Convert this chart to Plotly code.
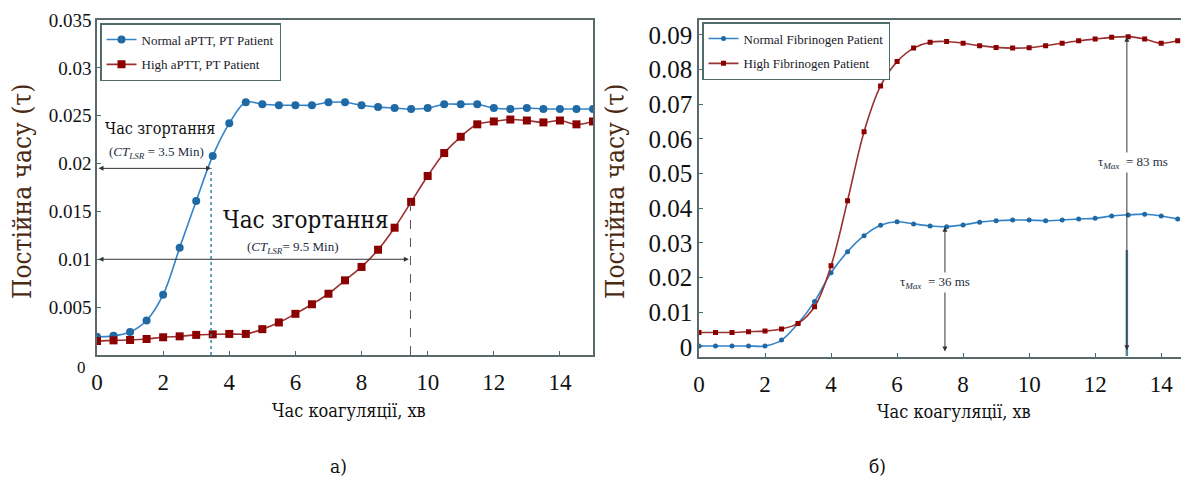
import plotly.graph_objects as go

# ---------------- data ----------------
t_left = [0, 0.5, 1, 1.5, 2, 2.5, 3, 3.5, 4, 4.5, 5, 5.5, 6, 6.5, 7, 7.5, 8, 8.5, 9, 9.5,
          10, 10.5, 11, 11.5, 12, 12.5, 13, 13.5, 14, 14.5, 15]
normal_aptt = [0.0019, 0.0020, 0.0024, 0.0036, 0.0063, 0.0112, 0.0161, 0.0208, 0.0242, 0.0264,
               0.0262, 0.0261, 0.0261, 0.0261, 0.0264, 0.0264, 0.0261, 0.0259, 0.0258, 0.0257,
               0.0258, 0.0262, 0.0262, 0.0262, 0.0258, 0.0257, 0.0258, 0.0257, 0.0257, 0.0257, 0.0257]
high_aptt = [0.00146, 0.00153, 0.00157, 0.00167, 0.00185, 0.00195, 0.0021, 0.00216, 0.0022, 0.0022,
             0.0027, 0.0034, 0.0043, 0.0053, 0.0064, 0.0078, 0.0092, 0.0110, 0.0133, 0.0160,
             0.0187, 0.0211, 0.0228, 0.0241, 0.0244, 0.0246, 0.0245, 0.0243, 0.0245, 0.0241, 0.0244]

t_right = [0, 0.5, 1, 1.5, 2, 2.5, 3, 3.5, 4, 4.5, 5, 5.5, 6, 6.5, 7, 7.5, 8, 8.5, 9, 9.5,
           10, 10.5, 11, 11.5, 12, 12.5, 13, 13.5, 14, 14.5]
normal_fib = [0.0003, 0.0003, 0.0003, 0.0003, 0.0003, 0.0020, 0.0068, 0.0131, 0.0214, 0.0275,
              0.0321, 0.0351, 0.0361, 0.0355, 0.0349, 0.0347, 0.0352, 0.0360, 0.0364, 0.0366,
              0.0366, 0.0364, 0.0366, 0.0369, 0.0371, 0.0378, 0.0381, 0.0383, 0.0378, 0.0369]
high_fib = [0.0042, 0.0042, 0.0042, 0.0044, 0.0046, 0.0052, 0.0068, 0.0116, 0.0234, 0.0422,
            0.0621, 0.0753, 0.0823, 0.0862, 0.0879, 0.0881, 0.0876, 0.0869, 0.0864, 0.0862,
            0.0863, 0.0869, 0.0876, 0.0883, 0.0888, 0.0893, 0.0895, 0.0888, 0.0876, 0.0883]

left_yticks = [0.005, 0.01, 0.015, 0.02, 0.025, 0.03, 0.035]
left_yticktext = ["0.005", "0.01", "0.015", "0.02", "0.025", "0.03", "0.035"]
right_yticks = [0, 0.01, 0.02, 0.03, 0.04, 0.05, 0.06, 0.07, 0.08, 0.09]
right_yticktext = ["0", "0.01", "0.02", "0.03", "0.04", "0.05", "0.06", "0.07", "0.08", "0.09"]
xticks = [0, 2, 4, 6, 8, 10, 12, 14]

ct_normal = 3.45      # clotting time arrow end, normal patient
ct_normal_level = 0.0195
ct_high = 9.48
ct_high_level = 0.0100
tau_normal_x = 7.45
tau_normal_val = 0.0347
tau_high_x = 12.96
tau_high_val = 0.0895

SERIF = "Liberation Serif, Times New Roman, Tinos, serif"
SERIF_CYR = "DejaVu Serif Condensed, DejaVu Serif, serif"
BLUE_LINE = "#3383c9"
BLUE_MK = "#1f6aa5"
RED_LINE = "#9b3030"
RED_MK = "#8b0000"
TITLE_COL = "#4a2a12"

fig = go.Figure()

# ---- left panel ----
fig.add_trace(go.Scatter(x=t_left, y=normal_aptt, name="Normal aPTT, PT Patient",
                         mode="lines+markers", line=dict(color=BLUE_LINE, width=1.6, shape="spline"),
                         marker=dict(symbol="circle", size=8, color=BLUE_MK),
                         xaxis="x", yaxis="y", legend="legend", legendgroup="a1"))
fig.add_trace(go.Scatter(x=t_left, y=high_aptt, name="High aPTT, PT Patient",
                         mode="lines+markers", line=dict(color=RED_LINE, width=1.6, shape="spline"),
                         marker=dict(symbol="square", size=8, color=RED_MK),
                         xaxis="x", yaxis="y", legend="legend", legendgroup="a2"))

# ---- right panel ----
fig.add_trace(go.Scatter(x=t_right, y=normal_fib, name="Normal Fibrinogen Patient",
                         mode="lines+markers", line=dict(color=BLUE_LINE, width=1.6, shape="spline"),
                         marker=dict(symbol="circle", size=5, color=BLUE_MK),
                         xaxis="x2", yaxis="y2", legend="legend2", legendgroup="b1"))
fig.add_trace(go.Scatter(x=t_right, y=high_fib, name="High Fibrinogen Patient",
                         mode="lines+markers", line=dict(color=RED_LINE, width=1.6, shape="spline"),
                         marker=dict(symbol="square", size=5, color=RED_MK),
                         xaxis="x2", yaxis="y2", legend="legend2", legendgroup="b2"))

W, H = 1181, 479
def px_x(p):
    return p / W
def px_y(p):
    return 1 - p / H

axis_common = dict(showgrid=False, zeroline=False, showline=True, mirror=True,
                   linecolor="#5a6a6a", linewidth=1.5, ticks="inside", ticklen=4,
                   tickcolor="#3f7070", tickfont=dict(family=SERIF, color="#111"))

fig.update_layout(
    width=W, height=H, margin=dict(l=0, r=0, t=0, b=0, autoexpand=False),
    paper_bgcolor="white", plot_bgcolor="white",
    font=dict(family=SERIF, color="#111"),
    xaxis=dict(axis_common, domain=[px_x(97), px_x(593)], range=[0, 15],
               tickvals=xticks, tickfont=dict(family=SERIF, size=23, color="#111"),
               ticklabelstandoff=6, anchor="y"),
    yaxis=dict(axis_common, domain=[px_y(355), px_y(20)], range=[0, 0.035],
               tickvals=left_yticks, ticktext=left_yticktext,
               tickfont=dict(family=SERIF, size=19, color="#111"), anchor="x"),
    xaxis2=dict(axis_common, domain=[px_x(699), 1.0], range=[0, 14.6],
                tickvals=xticks, tickfont=dict(family=SERIF, size=23, color="#111"),
                ticklabelstandoff=6, anchor="y2"),
    yaxis2=dict(axis_common, mirror=False, domain=[px_y(356.7), px_y(20)], range=[-0.0028, 0.0943],
                tickvals=right_yticks, ticktext=right_yticktext,
                tickfont=dict(family=SERIF, size=25, color="#111"), anchor="x2"),
    legend=dict(x=px_x(100), y=px_y(23), xanchor="left", yanchor="top",
                bgcolor="white", bordercolor="#4f6b6b", borderwidth=1.5,
                font=dict(family=SERIF, size=13, color="#1a1a2a"),
                itemwidth=30, tracegroupgap=5, traceorder="grouped"),
    legend2=dict(x=px_x(702), y=px_y(22), xanchor="left", yanchor="top",
                 bgcolor="white", bordercolor="#4f6b6b", borderwidth=1.5,
                 font=dict(family=SERIF, size=13, color="#1a1a2a"),
                 itemwidth=30, tracegroupgap=5, traceorder="grouped"),
    showlegend=True,
)

shapes = []
# dotted vertical (normal CT)
shapes.append(dict(type="line", xref="x", yref="y", x0=ct_normal, x1=ct_normal,
                   y0=0, y1=ct_normal_level, line=dict(color="#2f8a9a", width=1.5, dash="dot")))
# dashed vertical (high CT)
shapes.append(dict(type="line", xref="x", yref="y", x0=ct_high, x1=ct_high,
                   y0=0, y1=high_aptt[19], line=dict(color="#555566", width=1, dash="dash")))
# coloured segment on the right-panel arrow
shapes.append(dict(type="line", xref="x2", yref="y2", x0=tau_high_x, x1=tau_high_x,
                   y0=-0.0026, y1=0.028, line=dict(color="#4d8a95", width=2.5)))
fig.update_layout(shapes=shapes)

ann = []
def arrow(xr, yr, x0, y0, x1, y1):
    ann.append(dict(xref=xr, yref=yr, axref=xr, ayref=yr, x=x1, y=y1, ax=x0, ay=y0,
                    text="", showarrow=True, arrowhead=2, arrowside="end+start",
                    arrowsize=1, arrowwidth=1, arrowcolor="#333"))

# left panel arrows
arrow("x", "y", 0, ct_normal_level, ct_normal, ct_normal_level)
arrow("x", "y", 0, ct_high_level, ct_high - 0.05, ct_high_level)
# right panel arrows
arrow("x2", "y2", tau_normal_x, -0.0017, tau_normal_x, tau_normal_val)
arrow("x2", "y2", tau_high_x, -0.0014, tau_high_x, tau_high_val)

def text(xr, yr, x, y, s, size, color="#111", bg=None, xanchor="center", family=SERIF):
    d = dict(xref=xr, yref=yr, x=x, y=y, text=s, showarrow=False, xanchor=xanchor,
             yanchor="middle", font=dict(family=family, size=size, color=color))
    if bg:
        d["bgcolor"] = bg
    ann.append(d)

text("x", "y", 1.91, 0.0237, "Час згортання", 16, family=SERIF_CYR)
text("x", "y", 1.80, 0.0212, "(<i>CT<sub>LSR</sub></i> = 3.5 Min)", 13, color="#1e2e3e")
text("x", "y", 6.33, 0.0141, "Час згортання", 24, family=SERIF_CYR)
text("x", "y", 5.92, 0.01128, "(<i>CT<sub>LSR</sub></i>= 9.5 Min)", 13, color="#1e2e3e")
text("x2", "y2", 7.15, 0.0185, "τ<sub><i>Max</i></sub>  = 36 ms", 13, color="#1e2e3e", bg="white")
text("x2", "y2", 13.15, 0.0531, "τ<sub><i>Max</i></sub>  = 83 ms", 13, color="#1e2e3e", bg="white")

# zero label of left panel (offset like original)
text("paper", "paper", px_x(81), px_y(367), "0", 17)

# axis titles
text("paper", "paper", px_x(349), px_y(410), "Час коагуляції, хв", 18, family=SERIF_CYR)
text("paper", "paper", px_x(954), px_y(411), "Час коагуляції, хв", 18, family=SERIF_CYR)
for xc in (22, 615):
    ann.append(dict(xref="paper", yref="paper", x=px_x(xc), y=px_y(192), text="Постійна часу (τ)",
                    showarrow=False, textangle=-90, xanchor="center", yanchor="middle",
                    font=dict(family=SERIF_CYR, size=26, color=TITLE_COL)))

# panel captions
text("paper", "paper", px_x(338), px_y(466), "а)", 19, family=SERIF_CYR)
text("paper", "paper", px_x(877), px_y(466), "б)", 19, family=SERIF_CYR)

fig.update_layout(annotations=ann)

fig.write_html("out.html", config={"displayModeBar": False},
               post_script="document.body.style.margin='0';")
